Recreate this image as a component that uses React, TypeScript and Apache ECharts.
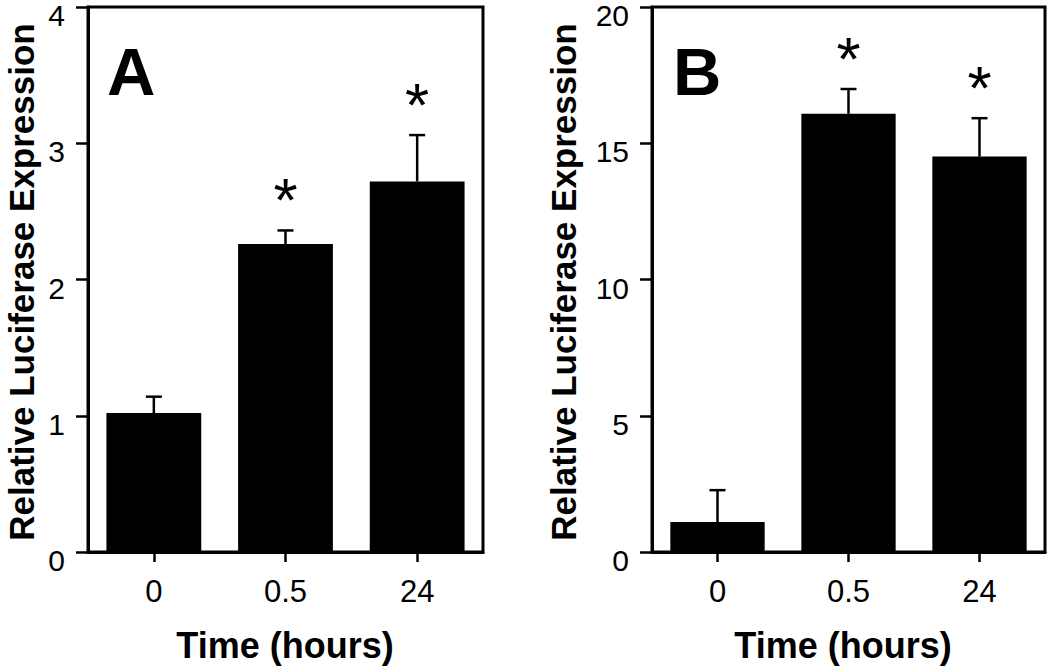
import React, { useEffect, useRef } from "react";
import * as echarts from "echarts";

const categories = ["0", "0.5", "24"];
const meansA = [1.02, 2.26, 2.72];
const errTopsA = [1.14, 2.36, 3.06];
const sigA = [false, true, true];
const meansB = [1.1, 16.08, 14.51];
const errTopsB = [2.27, 16.99, 15.92];
const sigB = [false, true, true];
const yTitle = "Relative Luciferase Expression";
const xTitle = "Time (hours)";
const panelLabels = ["A", "B"];

const FONT = "'Liberation Sans', Arial, Helvetica, sans-serif";

function errSeries(idx: number, means: number[], tops: number[], sig: boolean[]) {
  return {
    type: "custom",
    xAxisIndex: idx,
    yAxisIndex: idx,
    z: 5,
    data: means.map((m, i) => [i, m, tops[i], sig[i] ? 1 : 0]),
    renderItem: (params: any, api: any) => {
      const i = api.value(0);
      const base = api.coord([i, api.value(1)]);
      const top = api.coord([i, api.value(2)]);
      const half = 8;
      const children: any[] = [
        {
          type: "line",
          shape: { x1: base[0], y1: base[1], x2: top[0], y2: top[1] },
          style: { stroke: "#000", lineWidth: 2.5 },
        },
        {
          type: "line",
          shape: { x1: top[0] - half, y1: top[1], x2: top[0] + half, y2: top[1] },
          style: { stroke: "#000", lineWidth: 2.5 },
        },
      ];
      if (api.value(3) === 1) {
        children.push({
          type: "text",
          x: top[0],
          y: top[1] - 31,
          style: {
            text: "*",
            fill: "#000",
            font: `62px ${FONT}`,
            align: "center",
            verticalAlign: "middle",
          },
        });
      }
      return { type: "group", children };
    },
  };
}

export default function App() {
  const ref = useRef<HTMLDivElement>(null);
  useEffect(() => {
    if (!ref.current) return;
    const chart = echarts.init(ref.current, undefined, { renderer: "svg" });
    const axisCommonY = {
      type: "value",
      axisLine: { show: true, lineStyle: { color: "#000", width: 3 } },
      axisTick: { show: true, inside: false, length: 12, lineStyle: { color: "#000", width: 2.5 } },
      axisLabel: {
        color: "#000",
        fontSize: 30,
        fontFamily: FONT,
        margin: 23,
        verticalAlign: "top",
        lineHeight: 17,
      },
      splitLine: { show: false },
    };
    const axisCommonX = {
      type: "category",
      data: categories,
      axisLine: { show: true, lineStyle: { color: "#000", width: 3 } },
      axisTick: { show: true, alignWithLabel: true, length: 10, lineStyle: { color: "#000", width: 2.5 } },
      axisLabel: { color: "#000", fontSize: 31, fontFamily: FONT, margin: 24 },
    };
    const option: any = {
      animation: false,
      backgroundColor: "#fff",
      grid: [
        { left: 88, top: 7, width: 395, height: 545, show: true, borderColor: "#000", borderWidth: 3 },
        { left: 652, top: 7, width: 393, height: 545, show: true, borderColor: "#000", borderWidth: 3 },
      ],
      xAxis: [
        { ...axisCommonX, gridIndex: 0 },
        { ...axisCommonX, gridIndex: 1 },
      ],
      yAxis: [
        { ...axisCommonY, gridIndex: 0, min: 0, max: 4, interval: 1 },
        { ...axisCommonY, gridIndex: 1, min: 0, max: 20, interval: 5 },
      ],
      series: [
        {
          type: "bar",
          xAxisIndex: 0,
          yAxisIndex: 0,
          data: meansA,
          barWidth: "72%",
          itemStyle: { color: "#000" },
        },
        {
          type: "bar",
          xAxisIndex: 1,
          yAxisIndex: 1,
          data: meansB,
          barWidth: "72%",
          itemStyle: { color: "#000" },
        },
        errSeries(0, meansA, errTopsA, sigA),
        errSeries(1, meansB, errTopsB, sigB),
      ],
      graphic: [
        {
          type: "text",
          x: 21,
          y: 282,
          rotation: Math.PI / 2,
          style: { text: yTitle, font: `bold 35px ${FONT}`, fill: "#000", align: "center", verticalAlign: "middle" },
        },
        {
          type: "text",
          x: 563,
          y: 282,
          rotation: Math.PI / 2,
          style: { text: yTitle, font: `bold 35px ${FONT}`, fill: "#000", align: "center", verticalAlign: "middle" },
        },
        {
          type: "text",
          x: 285,
          y: 645,
          style: { text: xTitle, font: `bold 36px ${FONT}`, fill: "#000", align: "center", verticalAlign: "middle" },
        },
        {
          type: "text",
          x: 843,
          y: 645,
          style: { text: xTitle, font: `bold 36px ${FONT}`, fill: "#000", align: "center", verticalAlign: "middle" },
        },
        {
          type: "text",
          x: 107,
          y: 71,
          style: { text: panelLabels[0], font: `bold 67px ${FONT}`, fill: "#000", align: "left", verticalAlign: "middle" },
        },
        {
          type: "text",
          x: 673,
          y: 71,
          style: { text: panelLabels[1], font: `bold 67px ${FONT}`, fill: "#000", align: "left", verticalAlign: "middle" },
        },
      ],
    };
    chart.setOption(option);
    return () => chart.dispose();
  }, []);
  return (
    <div
      ref={ref}
      style={{ position: "fixed", left: 0, top: 0, width: 1050, height: 667 }}
    />
  );
}
